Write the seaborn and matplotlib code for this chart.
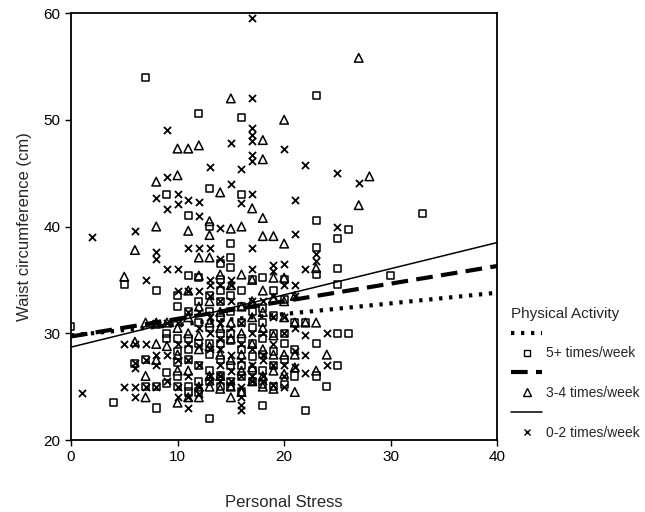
import numpy as np
import matplotlib
matplotlib.use("Agg")
import matplotlib.pyplot as plt
from matplotlib.lines import Line2D
import pandas as pd
import seaborn as sns

# readings from the figure, column by column (stress score -> waist values)
sq_cols = {0: [30.6], 4: [23.5], 5: [34.6], 6: [27.2], 7: [54, 27.5, 25],
           8: [34, 23, 30.8, 25], 9: [43, 30, 29.5, 26.3, 25.3],
           10: [33.5, 32.5, 29.5, 28.3, 27.3, 26, 25],
           11: [41, 35.4, 32, 29.5, 28.5, 27.5, 25, 24.5],
           12: [50.6, 35.2, 33, 31, 29, 27, 25.5, 24.5],
           13: [43.6, 40, 33.5, 32, 30.5, 29, 28, 26.5, 25.5, 22],
           14: [36.5, 35, 34, 33, 31.5, 30, 29, 27.5, 26, 25],
           15: [38.4, 37.1, 36.2, 33.5, 32, 30, 29.3, 27, 25.5, 25],
           16: [50.2, 43, 34, 32.5, 31, 29.5, 28.5, 27, 26, 24.5],
           17: [35, 32, 30.5, 29, 27.8, 26.5, 25.5],
           18: [35.2, 32.3, 31, 29.5, 28, 26.5, 25.2, 23.2],
           19: [34, 31.7, 30, 28.3, 27, 25],
           20: [35, 33.2, 30, 29, 27.5, 25.2],
           21: [31, 28.5, 26], 22: [31, 22.8],
           23: [52.3, 40.6, 38, 35.5, 29, 26], 24: [25],
           25: [38.9, 36.1, 34.6, 30, 27], 26: [39.7, 30], 30: [35.4], 33: [41.2]}

tri_cols = {5: [35.3], 6: [37.8, 29.2], 7: [31, 26, 24], 8: [44.2, 40, 31, 29, 27.5],
            9: [31, 28.8], 10: [47.3, 44.8, 30.5, 28, 26.5, 23.5],
            11: [47.3, 39.6, 34, 31.5, 30, 26.5, 24],
            12: [47.6, 37.1, 35.4, 32.5, 29.8, 28.5, 25, 24],
            13: [40.5, 39.2, 37.1, 33, 31, 28.8, 26, 25],
            14: [43.2, 35.5, 32, 30.5, 28, 26, 24.8],
            15: [52, 39.8, 34.5, 31, 29.5, 27.5, 25, 24],
            16: [40, 35.5, 32.5, 30, 28, 26.5, 24.5],
            17: [41.7, 35, 33, 31.5, 29, 26.8, 25.5],
            18: [48.1, 46.3, 40.8, 39.1, 34, 32, 30.5, 28.5, 26, 25],
            19: [39.1, 35.2, 33.3, 29.8, 28, 26.5, 24.8],
            20: [50, 38.4, 35.2, 33, 31.5, 28, 26.2],
            21: [33.5, 31, 28, 26.8, 24.5], 22: [31], 23: [36.1, 31, 26.5],
            24: [28], 27: [55.8, 42], 28: [44.7]}

x_cols = {1: [24.4], 2: [39], 5: [29, 25], 6: [39.6, 29, 27.2, 26.7, 25, 24],
          7: [35, 29, 27.5, 25], 8: [42.7, 37.6, 37, 31, 28, 27, 25],
          9: [49, 44.6, 41.6, 36, 31, 28, 25.5],
          10: [43, 42.1, 36, 34, 31, 29, 27.5, 25, 24],
          11: [42.5, 38, 34, 32, 29, 27.5, 26, 24, 23],
          12: [42.3, 41, 38, 34, 32, 30.5, 28.8, 27, 25, 24.3],
          13: [45.6, 38, 35, 34.5, 33.5, 31.5, 30, 28.5, 26, 25.5],
          14: [39.9, 37, 34.5, 33, 31, 29.5, 28.5, 27, 26, 25.5],
          15: [47.8, 44, 35, 34.5, 33, 30.5, 28, 26.5, 25.5],
          16: [45.4, 42.2, 31, 29, 27.5, 26, 25, 24, 23.3, 22.8],
          17: [59.5, 52, 49.2, 48.6, 48, 46.7, 46.1, 43, 38, 36, 33, 30, 28.5, 27, 26, 25.5],
          18: [33, 30, 28, 27.5, 26, 25.5],
          19: [36.4, 35.8, 33.5, 31.5, 29, 27, 25.2],
          20: [47.3, 36.5, 34.5, 31.5, 30, 27, 26, 25],
          21: [42.5, 39.3, 34.5, 33.5, 30.5, 28.3, 26.8],
          22: [45.8, 36, 29.8, 28, 26.3], 23: [37.4, 36.8], 24: [27, 30],
          25: [45, 40], 27: [44.1]}

# fitted lines at stress = 0 and 40
line_x = [0, 40]
fit_5plus = [29.8, 33.8]
fit_3to4 = [29.7, 36.3]
fit_0to2 = [28.7, 38.5]

labels = ["5+ times/week", "3-4 times/week", "0-2 times/week"]


def to_df(cols):
    xs, ys = [], []
    for k, v in cols.items():
        for y in v:
            xs.append(k)
            ys.append(y)
    return pd.DataFrame({"stress": xs, "waist": ys})


sns.set_style("ticks")
plt.rcParams["font.family"] = ["Liberation Sans", "DejaVu Sans"]

fig = plt.figure(figsize=(6.45, 5.12), dpi=100)
ax = fig.add_axes([0.110, 0.1406, 0.661, 0.834])

sns.scatterplot(data=to_df(sq_cols), x="stress", y="waist", marker="s", s=26,
                facecolor="none", edgecolor="black", linewidth=1.1, ax=ax)
sns.scatterplot(data=to_df(tri_cols), x="stress", y="waist", marker="^", s=38,
                facecolor="none", edgecolor="black", linewidth=1.1, ax=ax)
sns.scatterplot(data=to_df(x_cols), x="stress", y="waist", marker="x", s=26,
                color="black", linewidth=1.3, ax=ax)

sns.lineplot(x=line_x, y=fit_5plus, color="black", lw=3, linestyle=(0, (0.8, 1.6)), ax=ax)
sns.lineplot(x=line_x, y=fit_3to4, color="black", lw=3, linestyle=(0, (4, 2)), ax=ax)
sns.lineplot(x=line_x, y=fit_0to2, color="black", lw=1.1, ax=ax)

ax.set_xlim(0, 40)
ax.set_ylim(20, 60)
ax.set_xticks([0, 10, 20, 30, 40])
ax.set_yticks([20, 30, 40, 50, 60])
ax.tick_params(labelsize=11, length=4, width=1, colors="black")
for sp in ax.spines.values():
    sp.set_linewidth(1.3)
    sp.set_color("black")
ax.set_xlabel("Personal Stress", fontsize=12, labelpad=22)
ax.set_ylabel("Waist circumference (cm)", fontsize=12, labelpad=8)

handles = [
    Line2D([], [], color="black", lw=3, linestyle=(0, (0.8, 1.6))),
    Line2D([], [], marker="s", linestyle="none", mfc="none", mec="black", ms=5),
    Line2D([], [], color="black", lw=3, linestyle=(0, (4, 2))),
    Line2D([], [], marker="^", linestyle="none", mfc="none", mec="black", ms=6),
    Line2D([], [], color="black", lw=1.1),
    Line2D([], [], marker="x", linestyle="none", color="black", ms=5),
]
leg_labels = ["", labels[0], "", labels[1], "", labels[2]]
ax.legend(handles, leg_labels, title="Physical Activity", loc="upper left",
          bbox_to_anchor=(1.02, 0.325), frameon=False, fontsize=10,
          title_fontsize=11, handlelength=2.2, handletextpad=0.3,
          labelspacing=0.42, borderaxespad=0, alignment="left")

fig.savefig("out.png", dpi=100)
